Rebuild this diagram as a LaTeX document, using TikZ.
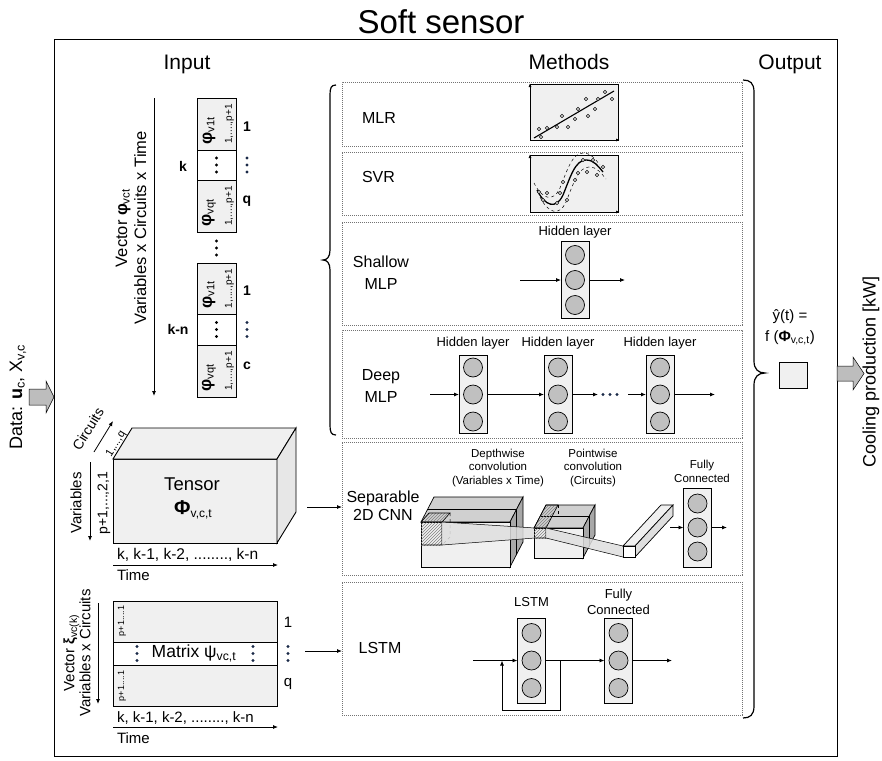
\documentclass[tikz,border=0pt]{standalone}
\usepackage{fontspec}
\setmainfont{Liberation Sans}
\usetikzlibrary{arrows.meta,patterns}
\definecolor{lg}{HTML}{F0F0F0}
\definecolor{ng}{HTML}{C0C0C0}
\definecolor{mg}{HTML}{D0D0D0}
\definecolor{dg}{HTML}{A8A8A8}
\definecolor{ag}{HTML}{BDBDBD}
\definecolor{dotc}{HTML}{1A2A48}
\newcommand\fs[2]{\fontsize{#1}{#2}\selectfont}
\newcommand\sub[1]{\textsubscript{#1}}
\newcommand\vd[3][black]{\foreach \q in {-7,0,7}{\fill[#1] (#2,{#3+(\q)}) circle (1.6pt);}}
\newcommand\nnlayer[5]{%
  \node[layerbox, minimum height=#4pt] (#1) at (#2,#3) {};
  \node[neuron] (#1a) at (#2,{#3-(#5)}) {};
  \node[neuron] (#1b) at (#2,#3) {};
  \node[neuron] (#1c) at (#2,{#3+(#5)}) {};
}
\begin{document}
\begin{tikzpicture}[x=1pt,y=-1pt,
 every node/.style={inner sep=0pt,outer sep=0pt},
 arr/.style={-{Latex[length=5pt,width=4pt]},line width=0.8pt},
 mbox/.style={draw=black!55,dash pattern=on 1.2pt off 0.8pt,line width=0.7pt,minimum width=400pt},
 layerbox/.style={draw,fill=lg,line width=0.8pt,minimum width=28pt},
 neuron/.style={circle,draw,fill=ng,line width=0.7pt,minimum size=19pt},
 cell/.style={draw,line width=1pt,minimum width=39pt},
 lab/.style={font=\fs{16}{22},align=center},
 hdr/.style={font=\fs{21}{24},anchor=base},
 hl/.style={font=\fs{13}{15}},
 cn/.style={font=\fs{11.5}{13.5},align=center},
 bl/.style={font=\bfseries\fs{14}{16}},
 pt/.style={draw,fill=ag,line width=0.4pt},
 brc/.style={line width=1.2pt},
]
\useasboundingbox (0,0) rectangle (882,760);
\fill[white] (0,0) rectangle (882,760);

% ---------- frame and headers
\node[font=\fs{33}{36},anchor=base] (title) at (441,34) {Soft sensor};
\draw[line width=1pt] (54,40) rectangle (837,756);
\node[hdr] (hin) at (187,70) {Input};
\node[hdr] (hme) at (569,70) {Methods};
\node[hdr] (hout) at (790,70) {Output};

% ---------- data in / out
\draw[fill=ag,line width=0.5pt] (29,389) -- (46,389) -- (46,381) -- (54,397) -- (46,413) -- (46,405) -- (29,405) -- cycle;
\node[rotate=90,font=\fs{18}{20}] (data) at (18,397) {Data: \textbf{u}\sub{c}, X\sub{v,c}};
\draw[fill=ag,line width=0.5pt] (837,366) -- (853,366) -- (853,357) -- (864,373.5) -- (853,390) -- (853,381) -- (837,381) -- cycle;
\node[rotate=90,font=\fs{18}{20}] (cool) at (871,372) {Cooling production [kW]};

% ---------- input vectors
\coordinate (vtop) at (154,98);
\coordinate (vbot) at (154,396);
\draw[arr] (vtop) -- (vbot);
\node[rotate=90,align=center,font=\fs{16.5}{19}] (vlab) at (131,228) {Vector \textbf{φ}\sub{vct}\\Variables x Circuits x Time};

\node[cell,fill=lg,minimum height=52pt] (a1) at (216.5,124) {};
\node[cell,fill=white,minimum height=30pt] (a2) at (216.5,165) {};
\node[cell,fill=lg,minimum height=52pt] (a3) at (216.5,206) {};
\node[rotate=90] (a1t) at (209,131) {\fs{17}{17}\textbf{φ}\fs{11}{11}\raisebox{-2.5pt}{v1t}};
\node[rotate=90,font=\fs{10}{11}] (a1s) at (229.5,124) {1,....,p+1};
\node[rotate=90] (a3t) at (209,213) {\fs{17}{17}\textbf{φ}\fs{11}{11}\raisebox{-2.5pt}{vqt}};
\node[rotate=90,font=\fs{10}{11}] (a3s) at (229.5,206) {1,....,p+1};
\vd{216.5}{165}
\vd[dotc]{247}{165}
\node[bl] (a1n) at (247,127) {1};
\node[bl] (a3n) at (247,201) {q};
\node[bl] (ak) at (183,166) {k};
\vd{216.5}{248}

\node[cell,fill=lg,minimum height=51pt] (b1) at (216.5,288.5) {};
\node[cell,fill=white,minimum height=31pt] (b2) at (216.5,329.5) {};
\node[cell,fill=lg,minimum height=52pt] (b3) at (216.5,371) {};
\node[rotate=90] (b1t) at (209,295) {\fs{17}{17}\textbf{φ}\fs{11}{11}\raisebox{-2.5pt}{v1t}};
\node[rotate=90,font=\fs{10}{11}] (b1s) at (229.5,288.5) {1,....,p+1};
\node[rotate=90] (b3t) at (209,378) {\fs{17}{17}\textbf{φ}\fs{11}{11}\raisebox{-2.5pt}{vqt}};
\node[rotate=90,font=\fs{10}{11}] (b3s) at (229.5,371) {1,....,p+1};
\vd{216.5}{329.5}
\vd[dotc]{247}{329.5}
\node[bl] (b1n) at (247,291) {1};
\node[bl] (b3n) at (247,366) {c};
\node[bl] (bk) at (178,329) {k-n};

% ---------- tensor
\node[draw,fill=lg,line width=0.9pt,minimum width=164pt,minimum height=84pt] (tf) at (195,501) {};
\draw[fill=lg,line width=0.9pt] (tf.north west) -- ++(19,-31) -- ++(164,0) -- (tf.north east) -- cycle;
\draw[fill=lg!92!gray,line width=0.9pt] (tf.north east) -- ++(19,-31) -- ++(0,84) -- (tf.south east) -- cycle;
\node[font=\fs{18.5}{20}] (tname) at (192,484) {Tensor};
\node (tsym) at (193,510) {\fs{20}{20}\textbf{Φ}\fs{12}{12}\raisebox{-3pt}{v,c,t}};
\coordinate (tv1) at (90,462);
\coordinate (tv2) at (90,541);
\draw[arr] (tv1) -- (tv2);
\node[rotate=90,font=\fs{15}{16}] (tvar) at (76,503) {Variables};
\node[rotate=90,font=\fs{14}{15}] (tvar2) at (104,503) {p+1,...,2,1};
\coordinate (tc1) at (94,452);
\coordinate (tc2) at (113,421);
\draw[arr] (tc1) -- (tc2);
\node[rotate=58.5,font=\fs{14}{15}] (tcir) at (88,429) {Circuits};
\node[rotate=58.5,font=\fs{11}{12}] (tcir2) at (116,444) {1,...,q};
\node[anchor=west,font=\fs{15.5}{16}] (ttime) at (117,555) {k, k-1, k-2, ........, k-n};
\coordinate (tt1) at (113,565);
\coordinate (tt2) at (278,565);
\draw[arr] (tt1) -- (tt2);
\node[anchor=west,font=\fs{15}{16}] (ttl) at (117,575) {Time};

% ---------- matrix
\node[draw,fill=lg,line width=0.9pt,minimum width=164pt,minimum height=41pt] (m1) at (195,621.5) {};
\node[draw,fill=white,line width=0.9pt,minimum width=164pt,minimum height=23pt] (m2) at (195,653.5) {};
\node[draw,fill=lg,line width=0.9pt,minimum width=164pt,minimum height=41pt] (m3) at (195,685.5) {};
\node[rotate=90,font=\fs{9}{10}] (m1s) at (122,621) {p+1....1};
\node[rotate=90,font=\fs{9}{10}] (m3s) at (122,686) {p+1....1};
\vd[dotc]{137}{653.5}
\vd[dotc]{253}{653.5}
\vd[dotc]{288}{653.5}
\node[font=\fs{17.5}{18}] (mtxt) at (194,653.5) {Matrix ψ\sub{vc,t}};
\node[font=\fs{15}{16}] (m1n) at (288,622) {1};
\node[font=\fs{15}{16}] (m3n) at (288,684) {q};
\coordinate (mv1) at (98,603);
\coordinate (mv2) at (98,704);
\draw[arr] (mv1) -- (mv2);
\node[rotate=90,align=center,font=\fs{15}{16}] (mlab) at (77,653) {Vector \textbf{ξ}\sub{vc(k)}\\Variables x Circuits};
\node[anchor=west,font=\fs{15}{16}] (mtime) at (117,718) {k, k-1, k-2, ........, k-n};
\coordinate (mt1) at (113,727);
\coordinate (mt2) at (278,727);
\draw[arr] (mt1) -- (mt2);
\node[anchor=west,font=\fs{15}{16}] (mtl) at (117,738) {Time};

% ---------- method boxes
\node[mbox,minimum height=64pt] (mlr) at (542,114) {};
\node[mbox,minimum height=63pt] (svr) at (542,183.5) {};
\node[mbox,minimum height=103pt] (sml) at (542,273.5) {};
\node[mbox,minimum height=108pt] (dml) at (542,384) {};
\node[mbox,minimum height=133pt] (cnn) at (542,508.5) {};
\node[mbox,minimum height=133pt] (lst) at (542,648.5) {};
\node[lab] (mlrt) at (379,118) {MLR};
\node[lab] (svrt) at (378.5,177) {SVR};
\node[lab] (smlt) at (381,273) {Shallow\\MLP};
\node[lab] (dmlt) at (381,386) {Deep\\MLP};
\node[lab,font=\fs{16}{18}] (cnnt) at (383,506) {Separable\\2D CNN};
\node[lab] (lstt) at (380,648) {LSTM};

% braces
\draw[brc] (336,85) .. controls (331,85) and (330,88) .. (330,95) -- (330,250) .. controls (330,257) and (327,260) .. (323,260) .. controls (327,260) and (330,263) .. (330,270) -- (330,425) .. controls (330,432) and (331,435) .. (336,435);
\draw[brc] (743,80) .. controls (750,80) and (754,83) .. (754,92) -- (754,361) .. controls (754,369) and (758,373) .. (765,373) .. controls (758,373) and (754,377) .. (754,385) -- (754,706) .. controls (754,715) and (750,718) .. (743,718);

% input connectors
\coordinate (tarr) at (307,507);
\draw[arr] (tarr) -- (cnn.west |- tarr);
\coordinate (marr) at (305,651);
\draw[arr] (marr) -- (lst.west |- marr);

% ---------- MLR plot
\fill[lg] (530,84) rectangle (618,140);
\draw[line width=0.5pt] (530,84) rectangle (618,140);
\draw[-{Latex[length=4pt,width=3pt]},line width=1pt] (530,140) -- (530,83);
\draw[-{Latex[length=4pt,width=3pt]},line width=1pt] (530,140) -- (620,140);
\draw[line width=1.1pt] (534,138) -- (614,91);
\foreach \p in {(539,129),(541,137),(547,128),(557,127),(562,116),(568,127),(575,119),(578,109),(586,99),(588,116),(595,109),(598,99),(605,92),(612,99)}
  \draw[pt] \p circle (1.8pt);

% ---------- SVR plot
\fill[lg] (530,155) rectangle (618,212);
\draw[line width=0.5pt] (530,155) rectangle (618,212);
\draw[-{Latex[length=4pt,width=3pt]},line width=1pt] (530,212) -- (530,154);
\draw[-{Latex[length=4pt,width=3pt]},line width=1pt] (530,212) -- (620,212);
\draw[line width=1.3pt] (537,190) .. controls (545,206) and (556,210) .. (563,195) .. controls (570,178) and (575,160) .. (586,160) .. controls (594,160) and (598,166) .. (603,172);
\begin{scope}[shift={(-3,-7)}]
\draw[dashed,line width=0.5pt] (537,190) .. controls (545,206) and (556,210) .. (563,195) .. controls (570,178) and (575,160) .. (586,160) .. controls (594,160) and (598,166) .. (603,172);
\end{scope}
\begin{scope}[shift={(3,7)}]
\draw[dashed,line width=0.5pt] (537,190) .. controls (545,206) and (556,210) .. (563,195) .. controls (570,178) and (575,160) .. (586,160) .. controls (594,160) and (598,166) .. (603,172);
\end{scope}
\foreach \p in {(539,192),(547,193),(543,200),(560,193),(563,182),(567,200),(575,180),(578,173),(583,160),(587,172),(593,160),(597,175),(557,203),(603,167)}
  \draw[pt] \p circle (1.8pt);

% ---------- shallow MLP
\nnlayer{sh}{575}{280}{77}{25}
\node[hl] (shl) at (575,232) {Hidden layer};
\coordinate (shin) at (520,280);
\coordinate (shout) at (625,280);
\draw[arr] (shin) -- (sh.west);
\draw[arr] (sh.east) -- (shout);

% ---------- deep MLP
\nnlayer{da}{473}{394.5}{78}{27}
\nnlayer{db}{558}{394.5}{78}{27}
\nnlayer{dc}{660}{394.5}{78}{27}
\node[hl] (dal) at (473,343) {Hidden layer};
\node[hl] (dbl) at (558,343) {Hidden layer};
\node[hl] (dcl) at (660,343) {Hidden layer};
\coordinate (din) at (430,394.5);
\coordinate (dmid1) at (598,394.5);
\coordinate (dmid2) at (628,394.5);
\coordinate (dout) at (715,394.5);
\draw[arr] (din) -- (da.west);
\draw[arr] (da.east) -- (db.west);
\draw[arr] (db.east) -- (dmid1);
\draw[arr] (dmid2) -- (dc.west);
\draw[arr] (dc.east) -- (dout);
\foreach \x in {603,610,617} \fill[dotc] (\x,394.5) circle (1.6pt);

% ---------- CNN
\node[cn] (cdw) at (498,468) {Depthwise\\convolution\\(Variables x Time)};
\node[cn] (cpw) at (593,468) {Pointwise\\convolution\\(Circuits)};
\node[cn] (cfc) at (702,471.5) {Fully\\Connected};
% cuboid A
\draw[fill=mg,line width=0.7pt] (421,522) -- (434,497) -- (523,497) -- (510,522) -- cycle;
\draw[fill=dg,line width=0.7pt] (510,522) -- (523,497) -- (523,542) -- (510,567) -- cycle;
\draw[fill=lg,line width=0.7pt] (421,522) rectangle (510,567);
\draw[line width=0.5pt] (427.5,509.5) -- (516.5,509.5) -- (516.5,554.5);
% kernel A
\fill[pattern=north east lines,pattern color=gray] (421,522) rectangle (442,545);
\fill[pattern=north east lines,pattern color=gray] (421,522) -- (429,513) -- (450,513) -- (442,522) -- cycle;
\draw[line width=0.6pt] (421,545) -- (442,545) -- (442,522) -- (421,522) -- (429,513) -- (450,513) -- (442,522);
\draw[dashed,line width=0.5pt] (450,513) -- (450,537) -- (442,545);
% projection A->B
\fill[gray!25,opacity=0.85] (442,522) -- (535,528) -- (535,538) -- (442,545) -- cycle;
\draw[line width=0.5pt] (442,522) -- (535,528);
\draw[line width=0.5pt] (442,545) -- (535,538);
% cuboid B
\draw[fill=mg,line width=0.7pt] (534,528) -- (546,505) -- (595,505) -- (583,528) -- cycle;
\draw[fill=dg,line width=0.7pt] (583,528) -- (595,505) -- (595,535) -- (583,558) -- cycle;
\draw[fill=lg,line width=0.7pt] (534,528) rectangle (583,558);
\draw[line width=0.5pt] (540,516.5) -- (589,516.5) -- (589,546.5);
% kernel B
\fill[pattern=north east lines,pattern color=gray] (534,528) rectangle (546,538);
\fill[pattern=north east lines,pattern color=gray] (534,528) -- (546,505) -- (558,505) -- (546,528) -- cycle;
\draw[line width=0.6pt] (534,538) -- (546,538) -- (546,528) -- (534,528) -- (546,505) -- (558,505) -- (546,528);
\draw[dashed,line width=0.5pt] (558,505) -- (558,515);
% projection B->bar
\fill[gray!25,opacity=0.85] (546,528) -- (623,546) -- (623,557) -- (546,538) -- cycle;
\draw[line width=0.5pt] (546,528) -- (623,546);
\draw[line width=0.5pt] (546,538) -- (623,557);
% flat bar
\draw[fill=lg,line width=0.7pt] (623,546) -- (661,505) -- (673,505) -- (635,546) -- cycle;
\draw[fill=lg!85!gray,line width=0.7pt] (635,546) -- (673,505) -- (673,516) -- (635,557) -- cycle;
\draw[fill=white,line width=0.7pt] (623,546) rectangle (635,557);
% FC
\nnlayer{fc}{697.5}{527.5}{79}{24}
\coordinate (fcin) at (670,527.5);
\coordinate (fcout) at (727,527.5);
\draw[arr] (fcin) -- (fc.west);
\draw[arr] (fc.east) -- (fcout);

% ---------- LSTM
\nnlayer{ls}{531.5}{660.5}{85}{27.5}
\nnlayer{lf}{618.5}{660.5}{85}{27.5}
\node[font=\fs{13}{15}] (lsl) at (531.5,602) {LSTM};
\node[font=\fs{13}{16},align=center] (lfl) at (618.5,601.5) {Fully\\Connected};
\coordinate (lin) at (473,660.5);
\coordinate (lout) at (672,660.5);
\coordinate (lp1) at (560,660.5);
\coordinate (lp2) at (502,660.5);
\draw[arr] (lin) -- (ls.west);
\draw[arr] (ls.east) -- (lf.west);
\draw[arr] (lf.east) -- (lout);
\draw[arr] (lp1) -- ++(0,50) -| (lp2);

% ---------- output
\node[font=\fs{15}{17}] (yhat) at (790,317) {ŷ(t) =};
\node[font=\fs{15}{17}] (yf) at (790,338) {f (\textbf{Φ}\sub{v,c,t})};
\node[draw,fill=lg,line width=0.6pt,minimum width=28pt,minimum height=26pt] (ysq) at (793,375) {};
\end{tikzpicture}
\end{document}
